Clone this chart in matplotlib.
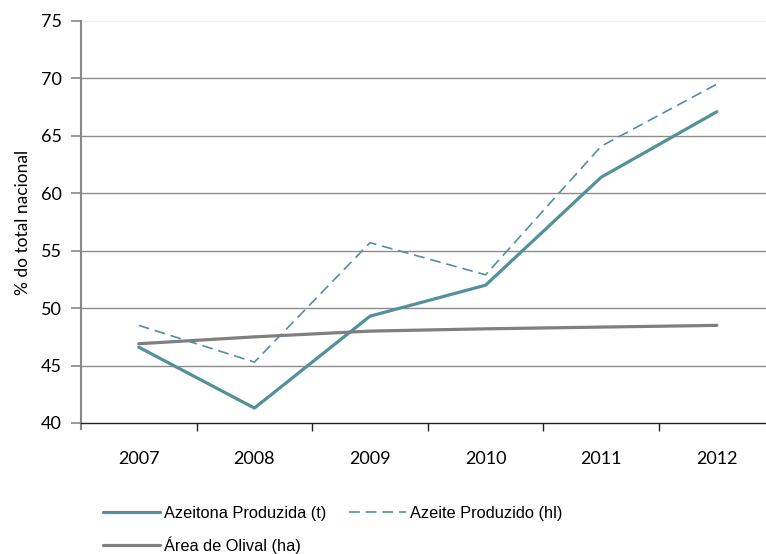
import matplotlib
matplotlib.use("Agg")
import matplotlib.pyplot as plt
from matplotlib.ticker import FixedLocator

years = ["2007", "2008", "2009", "2010", "2011", "2012"]
azeitona = [46.6, 41.3, 49.3, 52.0, 61.4, 67.1]
azeite = [48.5, 45.3, 55.7, 52.9, 64.1, 69.5]
area = [46.9, 47.5, 48.0, 48.2, 48.35, 48.5]
yticks = [40, 45, 50, 55, 60, 65, 70, 75]

teal = "#53909A"
grey = "#7F7F7F"

fig = plt.figure(figsize=(7.66, 5.54), dpi=100)
ax = fig.add_axes([81/766, 1-423/554, 1-81/766, (423-21)/554])

x = list(range(len(years)))
l1, = ax.plot(x, azeitona, color=teal, lw=2.3, solid_capstyle="round", label="Azeitona Produzida (t)", zorder=3)
l2, = ax.plot(x, azeite, color=teal, lw=1.2, dashes=(6.5, 3.5), label="Azeite Produzido (hl)", zorder=3)
l3, = ax.plot(x, area, color=grey, lw=2.3, solid_capstyle="round", label="Área de Olival (ha)", zorder=3)

ax.set_ylim(40, 75)
ax.set_xlim(-0.5, -0.5 + (766-81)/115.6)
ax.set_yticks(yticks)
ax.set_yticklabels([str(v) for v in yticks], fontfamily="Lato", fontsize=13)
ax.set_xticks(x)
ax.set_xticklabels(years, fontfamily="Lato", fontsize=13)
ax.xaxis.set_minor_locator(FixedLocator([i + 0.5 for i in range(len(years))]))
ax.tick_params(axis="x", which="major", length=0, pad=20)
ax.tick_params(axis="x", which="minor", length=6, width=1, color="#222222", direction="out")
ax.tick_params(axis="y", length=7, width=1.2, color="#888888", pad=7)

for v in yticks[1:-1]:
    ax.axhline(v, color="#8c8c8c", lw=1, zorder=1)
ax.axhline(75, color="#eeeeee", lw=1, zorder=1)

for s in ["top", "right"]:
    ax.spines[s].set_visible(False)
ax.spines["left"].set_color("#888888")
ax.spines["left"].set_linewidth(1.5)
ax.spines["left"].set_bounds(40, 75)
ax.spines["bottom"].set_color("#222222")
ax.spines["bottom"].set_linewidth(1)
ax.spines["bottom"].set_zorder(4)
ax.spines["left"].set_zorder(4)
ax.plot([-0.5, -0.5], [40, 40 - 6/11.486], color="#888888", lw=1.5, clip_on=False, zorder=4)

ax.set_ylabel("% do total nacional", fontfamily="Lato", fontsize=12.5, labelpad=7)

leg = fig.legend([l1, l3, l2], [l1.get_label(), l3.get_label(), l2.get_label()],
                 ncol=2, loc="upper left", bbox_to_anchor=(103/766, 1-506/554),
                 frameon=False, prop={"family": "Liberation Sans", "size": 11.8},
                 handlelength=3.5, handletextpad=0.25, columnspacing=1.35,
                 labelspacing=0.95, borderaxespad=0, borderpad=0)

fig.savefig("out.png", dpi=100)
